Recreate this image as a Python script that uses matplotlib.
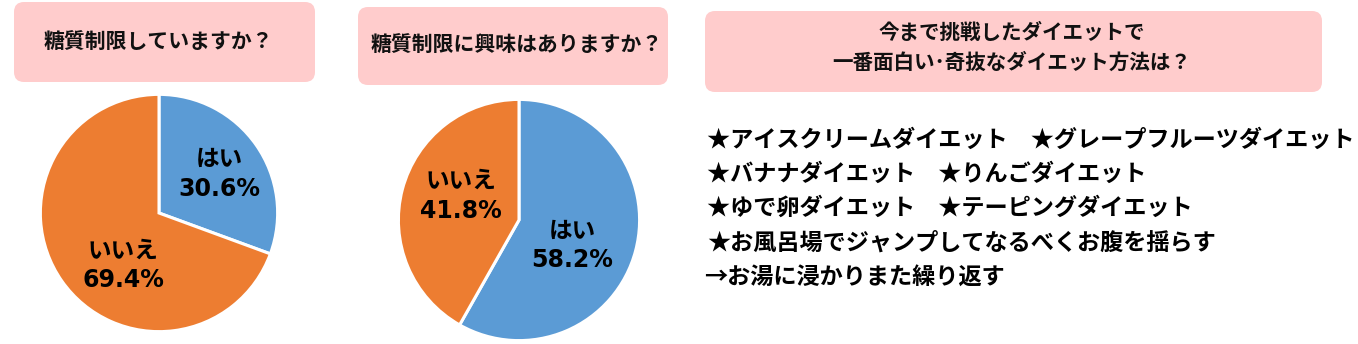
import matplotlib
matplotlib.use("Agg")
import matplotlib.pyplot as plt
from matplotlib.patches import FancyBboxPatch

plt.rcParams['font.family'] = ['Noto Sans CJK JP', 'DejaVu Sans']

# Survey data
categories = ["はい", "いいえ"]
practice_values = [30.6, 69.4]   # 糖質制限していますか？
interest_values = [58.2, 41.8]   # 糖質制限に興味はありますか？
colors = ["#5B9BD5", "#ED7D31"]

title_practice = "糖質制限していますか？"
title_interest = "糖質制限に興味はありますか？"
title_diet = ["今まで挑戦したダイエットで", "一番面白い･奇抜なダイエット方法は？"]
diet_lines = [
    "★アイスクリームダイエット　★グレープフルーツダイエット",
    "★バナナダイエット　★りんごダイエット",
    "★ゆで卵ダイエット　★テーピングダイエット",
    "★お風呂場でジャンプしてなるべくお腹を揺らす",
    "→お湯に浸かりまた繰り返す",
]

W, H = 1358, 344
fig = plt.figure(figsize=(W / 100, H / 100), dpi=100)
fig.patch.set_facecolor("white")

# Overlay in pixel units for the heading boxes and free text
bg = fig.add_axes([0, 0, 1, 1])
bg.set_xlim(0, W)
bg.set_ylim(H, 0)
bg.axis("off")

box_color = "#FFCCCC"


def rounded_box(x0, y0, x1, y1, pad=10):
    bg.add_patch(FancyBboxPatch((x0 + pad, y0 + pad), (x1 - x0) - 2 * pad,
                                (y1 - y0) - 2 * pad,
                                boxstyle=f"round,pad={pad}",
                                facecolor=box_color, edgecolor="none"))


# Heading boxes
rounded_box(14, 2, 315, 82)
bg.text(158, 41, title_practice, ha="center", va="center", fontsize=15,
        fontweight="bold", color="#111111")

rounded_box(358, 7, 668, 85)
bg.text(517, 44, title_interest, ha="center", va="center", fontsize=15,
        fontweight="bold", color="#111111")

rounded_box(705, 11, 1322, 92)
for i, line in enumerate(title_diet):
    bg.text(1012, 32 + i * 30, line, ha="center", va="center",
            fontsize=14.8, fontweight="bold", color="#111111")

# Free-answer list
for i, line in enumerate(diet_lines):
    x = 704 if line.startswith("→") else 707
    bg.text(x, 140 + i * 34.3, line, ha="left", va="center",
            fontsize=16.7, fontweight="bold", color="#000000")


def pie_panel(cx, cy, r, values, label_pos):
    ax = fig.add_axes([(cx - r) / W, (H - cy - r) / H, 2 * r / W, 2 * r / H])
    ax.pie(values, colors=colors, startangle=90, counterclock=False,
           radius=1.0,
           wedgeprops=dict(edgecolor="white", linewidth=2.2))
    ax.set_xlim(-1.02, 1.02)
    ax.set_ylim(-1.02, 1.02)
    ax.set_aspect("equal")
    ax.axis("off")
    for cat, val, (lx, ly) in zip(categories, values, label_pos):
        ax.text(lx, ly, f"{cat}\n{val:.1f}%", ha="center", va="center",
                fontsize=17, fontweight="bold", color="#000000",
                family=["DejaVu Sans", "Noto Sans CJK JP"], linespacing=1.3)


pie_panel(159, 213, 121, practice_values, [(0.51, 0.33), (-0.30, -0.44)])
pie_panel(519, 220, 123, interest_values, [(0.44, -0.21), (-0.48, 0.20)])

fig.savefig("out.png", dpi=100, facecolor="white")
